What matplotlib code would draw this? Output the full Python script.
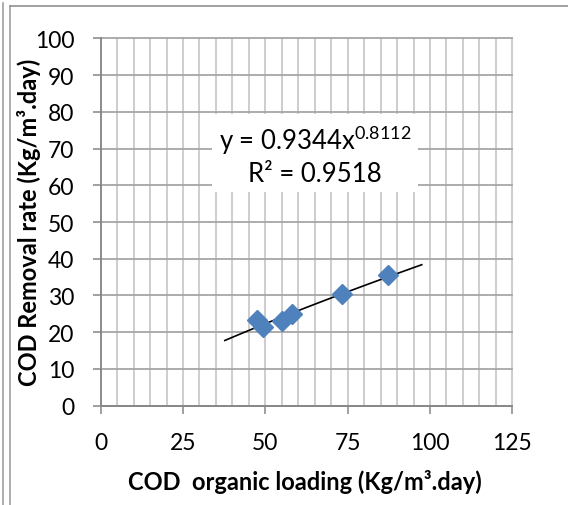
import matplotlib
matplotlib.use("Agg")
import matplotlib.pyplot as plt
import matplotlib.ticker as ticker
from matplotlib.lines import Line2D
import numpy as np

plt.rcParams['font.family'] = ['Lato', 'DejaVu Sans']

# data
loading = [47.6, 49.4, 55.0, 58.0, 73.2, 87.4]
removal = [23.4, 21.3, 23.1, 24.9, 30.3, 35.5]

# power trendline shown on the chart: y = a * x^b
trend_a = 0.9344
trend_b = 0.8112
trend_from = 37.7
trend_to = 97.5

fig = plt.figure(figsize=(5.68, 5.06), dpi=100)
ax = fig.add_axes([100.7/568, 1-406.7/506, 411.6/568, 367.4/506])

# grid
ax.set_xlim(0, 125)
ax.set_ylim(0, 100)
ax.xaxis.set_major_locator(ticker.MultipleLocator(25))
ax.xaxis.set_minor_locator(ticker.MultipleLocator(5))
ax.yaxis.set_major_locator(ticker.MultipleLocator(10))
ax.xaxis.grid(True, which='both', color='#c0c0c0', lw=1.1, zorder=0)
ax.yaxis.grid(True, which='major', color='#a6a6a6', lw=1.3, zorder=0)
ax.set_axisbelow(True)
for gl in ax.get_xgridlines() + ax.get_ygridlines():
    gl.set_clip_on(False)

for s in ['top', 'right']:
    ax.spines[s].set_visible(False)
for s in ['left', 'bottom']:
    ax.spines[s].set_color('#868686')
    ax.spines[s].set_linewidth(1.3)

ax.tick_params(which='major', direction='out', length=6, width=1.1, color='#868686',
               labelsize=16.5, pad=13)
ax.tick_params(which='minor', length=0)

# trendline
xt = np.linspace(trend_from, trend_to, 100)
ax.plot(xt, trend_a * xt ** trend_b, color='black', lw=1.2, zorder=3)

# points
ax.plot(loading, removal, linestyle='none', marker='D', markersize=10.5,
        color='#4f81bd', markeredgecolor='#4f81bd', zorder=4)

ax.text(65.1, 68.5, 'y = 0.9344x$^{\\mathregular{0.8112}}$\nR² = 0.9518',
        ha='center', va='center', fontsize=18.5, linespacing=1.25, zorder=5,
        bbox=dict(boxstyle='square,pad=0.25', facecolor='white', edgecolor='none'))

ax.set_xlabel('COD  organic loading (Kg/m³.day)', fontsize=17, fontweight='bold')
ax.set_ylabel('COD Removal rate (Kg/m³.day)', fontsize=17, fontweight='bold')
ax.xaxis.set_label_coords(0.496, -0.205)
ax.xaxis.label.set_va('center')
ax.yaxis.set_label_coords(-0.175, 0.501)
ax.yaxis.label.set_va('center')

# outer frame
fig.add_artist(Line2D([3.5/568, 3.5/568], [0, 1-3.5/506], transform=fig.transFigure, color='#a0a0a0', lw=1.2))
fig.add_artist(Line2D([9.5/568, 9.5/568], [0, 1-6.5/506], transform=fig.transFigure, color='#a0a0a0', lw=1.2))
fig.add_artist(Line2D([9.5/568, 1], [1-6.5/506, 1-6.5/506], transform=fig.transFigure, color='#909090', lw=1.2))

fig.savefig('out.png', dpi=100)
